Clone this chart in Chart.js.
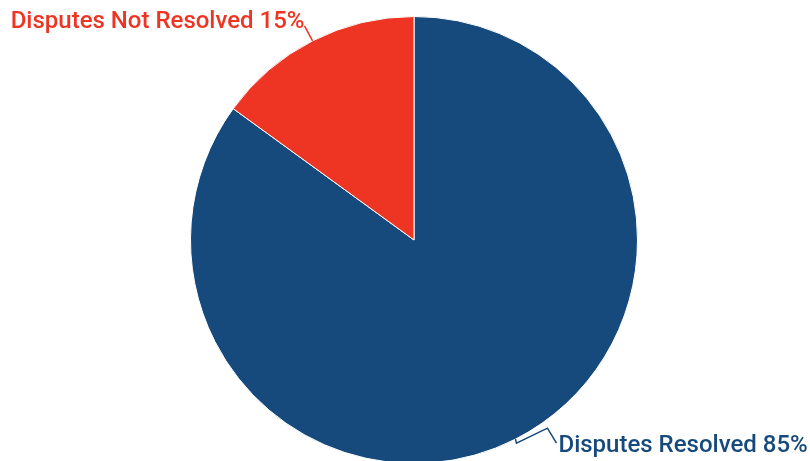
<!DOCTYPE html>
<html>
<head>
<meta charset="utf-8">
<script src="https://cdn.jsdelivr.net/npm/chart.js@4"></script>
<style>
  html, body { margin: 0; padding: 0; background: #fff; overflow: hidden; }
  #wrap { width: 810px; height: 480px; position: relative; }
</style>
</head>
<body>
<div id="wrap"><canvas id="chart"></canvas></div>
<script>
const labels = ["Disputes Resolved", "Disputes Not Resolved"];
const values = [85, 15];
const colors = ["#174A7C", "#EE3524"];

// draws the outside labels with their leader lines
const outsideLabels = {
  id: 'outsideLabels',
  afterDraw(chart) {
    const ctx = chart.ctx;
    const arcs = chart.getDatasetMeta(0).data;
    ctx.save();
    ctx.font = '500 24px Roboto';
    ctx.lineWidth = 1.5;
    arcs.forEach((arc, i) => {
      const mid = (arc.startAngle + arc.endAngle) / 2;
      const x = arc.x + Math.cos(mid) * arc.outerRadius;
      const y = arc.y + Math.sin(mid) * arc.outerRadius;
      const text = labels[i] + ' ' + values[i] + '%';
      ctx.strokeStyle = colors[i];
      ctx.fillStyle = colors[i];
      ctx.beginPath();
      if (Math.cos(mid) >= 0) {
        ctx.moveTo(x, y);
        ctx.lineTo(x + 1, y + 4);
        ctx.lineTo(x + 32, y - 11);
        ctx.lineTo(x + 41, y + 4);
        ctx.stroke();
        ctx.textAlign = 'left';
        ctx.fillText(text, x + 43, y + 13);
      } else {
        ctx.moveTo(x, y);
        ctx.lineTo(x - 8, y - 15);
        ctx.stroke();
        ctx.textAlign = 'right';
        ctx.fillText(text, x - 8, y - 13);
      }
    });
    ctx.restore();
  }
};

new Chart(document.getElementById('chart'), {
  type: 'pie',
  data: {
    labels: labels,
    datasets: [{
      data: values,
      backgroundColor: colors,
      borderColor: '#ffffff',
      borderWidth: 1
    }]
  },
  options: {
    responsive: true,
    maintainAspectRatio: false,
    animation: false,
    layout: { padding: { top: 16, bottom: 16, left: 18, right: 0 } },
    plugins: { legend: { display: false }, tooltip: { enabled: false } }
  },
  plugins: [outsideLabels]
});
</script>
</body>
</html>
